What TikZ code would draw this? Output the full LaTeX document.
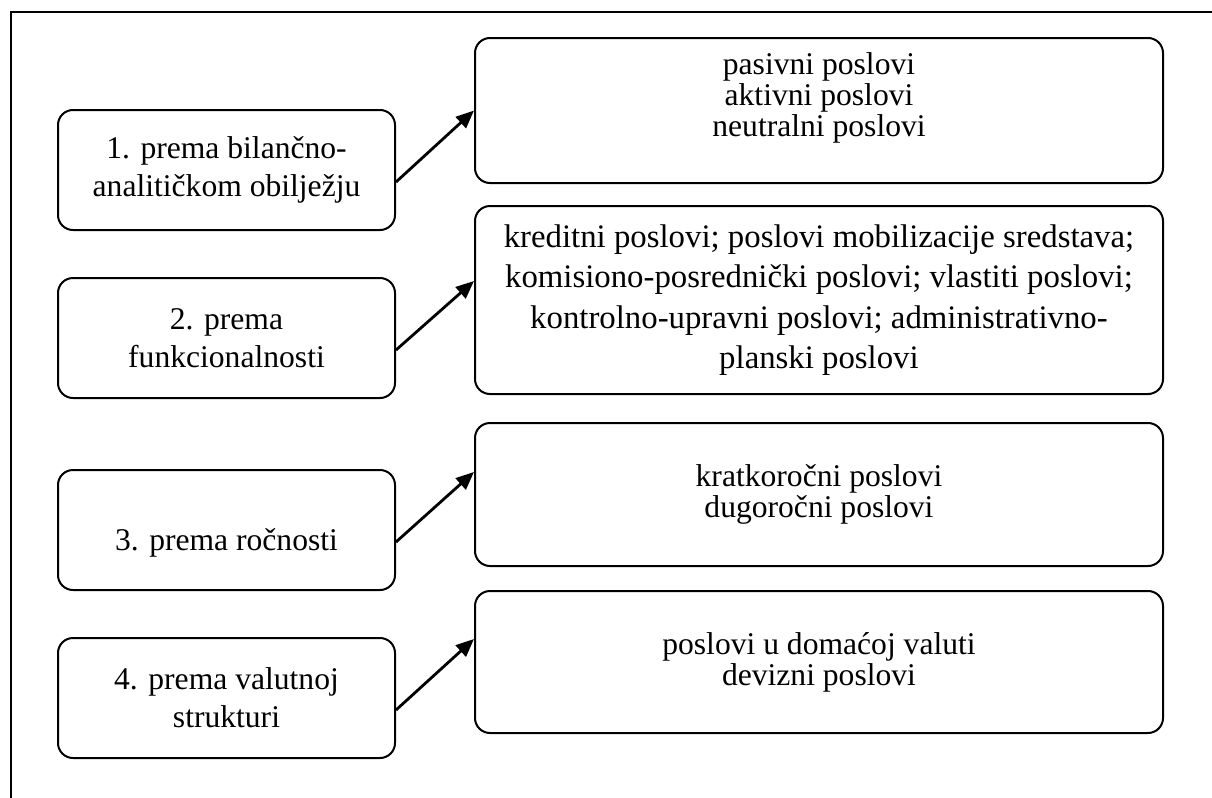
\documentclass[tikz,border=0pt]{standalone}
\usepackage{fontspec}
\setmainfont{Liberation Serif}
\usetikzlibrary{arrows.meta}
\tikzset{
    kind/.style={draw,line width=1pt,rounded corners=7.5pt,
        minimum width=168.5pt,minimum height=60pt,inner sep=0pt,
        align=center,font=\fontsize{15.8}{19}\selectfont},
    group/.style={draw,line width=1pt,rounded corners=7.5pt,
        minimum width=344pt,inner sep=0pt,
        align=center,font=\fontsize{15.8}{15.5}\selectfont},
    link/.style={line width=1.4pt,-{Triangle[length=9pt,width=7.5pt]}}
}
\begin{document}
\begin{tikzpicture}[x=0.5pt,y=-0.5pt]
        \useasboundingbox (0,0) rectangle (1212,798);
        %% Frame
        \draw[line width=1pt] (11,798) -- (11,12) -- (1212,12);
        %% Criteria
        \node[kind] (k1) at (226.5,170) {1. prema bilančno-\\analitičkom obilježju};
        \node[kind] (k2) at (226.5,338) {2. prema\\funkcionalnosti};
        \node[kind,text height=24pt,text depth=3.4pt] (k3) at (226.5,530)
            {3. prema ročnosti};
        \node[kind] (k4) at (226.5,698) {4. prema valutnoj\\strukturi};
        %% Kinds of business
        \node[group,minimum height=72.5pt,text depth=16pt] (g1) at (819,110.5)
            {pasivni poslovi\\aktivni poslovi\\neutralni poslovi};
        \node[group,minimum height=94pt,font=\fontsize{16.4}{20.2}\selectfont] (g2) at (819,300)
            {kreditni poslovi; poslovi mobilizacije sredstava;\\
             komisiono-posrednički poslovi; vlastiti poslovi;\\
             kontrolno-upravni poslovi; administrativno-\\
             planski poslovi};
        \node[group,minimum height=71.5pt] (g3) at (819,494.5)
            {kratkoročni poslovi\\dugoročni poslovi};
        \node[group,minimum height=71pt] (g4) at (819,662)
            {poslovi u domaćoj valuti\\devizni poslovi};
        %% Arrows
        \draw[link] ([yshift=-6pt]k1.east) -- (g1.west);
        \draw[link] ([yshift=-6pt]k2.east) -- ([yshift=9.5pt]g2.west);
        \draw[link] ([yshift=-6pt]k3.east) -- ([yshift=11.25pt]g3.west);
        \draw[link] ([yshift=-6pt]k4.east) -- ([yshift=11.5pt]g4.west);
\end{tikzpicture}
\end{document}
